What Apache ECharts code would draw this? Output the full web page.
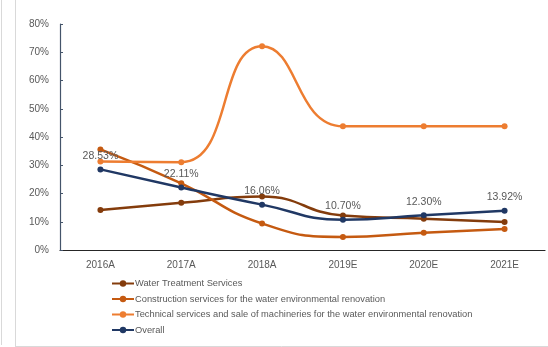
<!DOCTYPE html>
<html>
<head>
<meta charset="utf-8">
<script src="https://cdn.jsdelivr.net/npm/echarts@6/dist/echarts.min.js"></script>
<style>
  html, body { margin: 0; padding: 0; background: #fff; }
  #chart { width: 548px; height: 347px; }
</style>
</head>
<body>
<div id="chart"></div>
<script>
// Growth rates by business segment, 2016A–2021E (percent)
const years = ['2016A', '2017A', '2018A', '2019E', '2020E', '2021E'];
const waterTreatment = [14.2, 16.7, 18.9, 12.2, 11.1, 9.9];
const construction = [35.6, 23.6, 9.4, 4.6, 6.1, 7.4];
const technical = [31.3, 31.1, 72.1, 43.8, 43.8, 43.8];
const overall = [28.53, 22.11, 16.06, 10.70, 12.30, 13.92];
const yTicks = [0, 10, 20, 30, 40, 50, 60, 70, 80];

const seriesNames = [
  'Water Treatment Services',
  'Construction services for the water environmental renovation',
  'Technical services and sale of machineries for the water environmental renovation',
  'Overall'
];
const colors = ['#843C0C', '#C55A11', '#ED7D31', '#203864'];

const textColor = '#595959';
const font = 'Liberation Sans, Arial, sans-serif';

function lineSeries(name, data, color, withLabels) {
  return {
    name: name,
    type: 'line',
    data: data,
    smooth: 0.5,
    symbol: 'circle',
    symbolSize: 6,
    lineStyle: { width: 2.5, color: color },
    itemStyle: { color: color },
    label: withLabels ? {
      show: true,
      position: 'top',
      distance: 5,
      color: textColor,
      fontSize: 10.5,
      fontFamily: font,
      formatter: p => p.value.toFixed(2) + '%'
    } : { show: false },
    emphasis: { disabled: true },
    z: withLabels ? 5 : 2
  };
}

const chart = echarts.init(document.getElementById('chart'), null, { renderer: 'canvas' });
chart.setOption({
  animation: false,
  backgroundColor: '#ffffff',
  grid: { left: 60, right: 3, top: 24, bottom: 97, containLabel: false },
  xAxis: {
    type: 'category',
    data: years,
    boundaryGap: true,
    axisLine: { lineStyle: { color: '#262626', width: 1.2 } },
    axisTick: { show: false },
    axisLabel: { color: textColor, fontSize: 10, fontFamily: font, margin: 10 }
  },
  yAxis: {
    type: 'value',
    min: yTicks[0],
    max: yTicks[yTicks.length - 1],
    interval: 10,
    axisLine: { show: true, lineStyle: { color: '#44546A', width: 1.2 } },
    axisTick: { show: true, inside: true, length: 3, lineStyle: { color: '#44546A' } },
    splitLine: { show: false },
    axisLabel: { color: textColor, fontSize: 10, fontFamily: font, margin: 11, formatter: v => v + '%' }
  },
  legend: {
    orient: 'vertical',
    left: 111,
    top: 279,
    width: 430,
    height: 68,
    padding: 0,
    itemWidth: 22,
    itemHeight: 8,
    itemGap: 6.5,
    textStyle: { color: textColor, fontSize: 9.3, fontFamily: font, padding: [0, 0, 0, -4] },
    data: seriesNames
  },
  series: [
    lineSeries(seriesNames[0], waterTreatment, colors[0], false),
    lineSeries(seriesNames[1], construction, colors[1], false),
    lineSeries(seriesNames[2], technical, colors[2], false),
    lineSeries(seriesNames[3], overall, colors[3], true)
  ],
  graphic: [
    { type: 'line', shape: { x1: 1.5, y1: 0, x2: 1.5, y2: 345 }, style: { stroke: '#d9d9d9', lineWidth: 1 }, silent: true },
    { type: 'line', shape: { x1: 15.5, y1: 0, x2: 15.5, y2: 346 }, style: { stroke: '#d9d9d9', lineWidth: 1 }, silent: true },
    { type: 'line', shape: { x1: 15, y1: 346.5, x2: 548, y2: 346.5 }, style: { stroke: '#d9d9d9', lineWidth: 1 }, silent: true }
  ]
});
</script>
</body>
</html>
